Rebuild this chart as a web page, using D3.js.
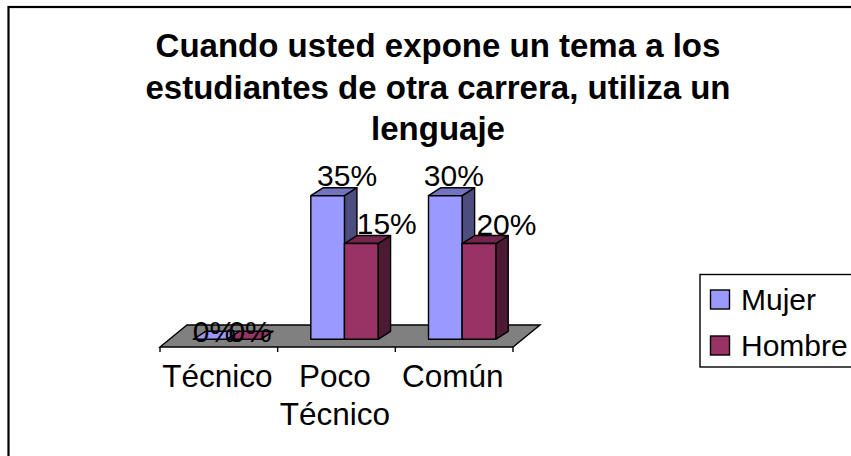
<!DOCTYPE html>
<html>
<head>
<meta charset="utf-8">
<script src="https://cdn.jsdelivr.net/npm/d3@7"></script>
<style>
  html, body { margin: 0; padding: 0; background: #fff; }
  svg { display: block; }
  text { font-family: "Liberation Sans", Arial, sans-serif; fill: #000; }
</style>
</head>
<body>
<div id="chart"></div>
<script>
// Data
var titleLines = ["Cuando usted expone un tema a los", "estudiantes de otra carrera, utiliza un", "lenguaje"];
var categories = ["Técnico", "Poco Técnico", "Común"];
var seriesNames = ["Mujer", "Hombre"];
// bar heights as drawn (the chart's printed labels do not follow them)
var mujerValues = [0, 30, 30];
var hombreValues = [0, 20, 20];
var mujerLabels = ["0%", "35%", "30%"];
var hombreLabels = ["0%", "15%", "20%"];
var yDomain = [0, 30];

var seriesValues = [mujerValues, hombreValues];
var seriesLabels = [mujerLabels, hombreLabels];

const width = 851;
const height = 456;

var colors = d3.scaleOrdinal().domain(seriesNames).range(["#9999ff", "#993366"]);
var topColors = d3.scaleOrdinal().domain(seriesNames).range(["#7373bf", "#73264d"]);
var sideColors = d3.scaleOrdinal().domain(seriesNames).range(["#4d4d80", "#4d1a33"]);

var svg = d3.select("#chart").append("svg")
    .attr("width", width)
    .attr("height", height);

// chart frame, its right and bottom side fall outside the page
svg.append("rect")
    .attr("x", 8.5).attr("y", 7)
    .attr("width", 860).attr("height", 470)
    .attr("fill", "#fff")
    .attr("stroke", "#000")
    .attr("stroke-width", 2.2);

svg.append("g").selectAll("text")
    .data(titleLines)
    .enter().append("text")
    .attr("x", 438)
    .attr("y", (d, i) => 57 + i * 41.7)
    .attr("text-anchor", "middle")
    .attr("font-size", 33)
    .attr("font-weight", "bold")
    .text(d => d);

//------------------------scales------------------------//
var floorFront = 347, floorBack = 325;
var floorSlant = 27;         // floor shift going back
var barBase = 339.3;
var depthX = 12.5, depthY = 8; // 3d depth of a bar
var baseShift = floorSlant * (floorFront - barBase) / (floorFront - floorBack);

var x = d3.scaleBand().domain(categories).range([160, 513]);
var xInner = d3.scaleBand().domain(seriesNames)
    .range([0, x.bandwidth()])
    .paddingInner(0)
    .paddingOuter(0.75);
var y = d3.scaleLinear().domain(yDomain).range([barBase, 195.7]);

//------------------------floor------------------------//
svg.append("path")
    .attr("d", d3.line()([
        [x.range()[0], floorFront],
        [x.range()[0] + floorSlant, floorBack],
        [x.range()[1] + floorSlant, floorBack],
        [x.range()[1], floorFront]
    ]) + "Z")
    .attr("fill", "#808080")
    .attr("stroke", "#000")
    .attr("stroke-width", 1.4);

// ticks sit between the categories
var tickX = categories.map(c => x(c)).concat([x.range()[1]]);
svg.append("g").selectAll("line")
    .data(tickX)
    .enter().append("line")
    .attr("x1", d => d).attr("x2", d => d)
    .attr("y1", floorFront).attr("y2", floorFront + 5)
    .attr("stroke", "#000")
    .attr("stroke-width", 1.4);

//------------------------bars------------------------//
var barData = [];
categories.forEach(function(c, i) {
    seriesNames.forEach(function(s, j) {
        barData.push({ cat: c, name: s, value: seriesValues[j][i], label: seriesLabels[j][i], i: i, j: j });
    });
});

var bars = svg.append("g").selectAll("g")
    .data(barData)
    .enter().append("g")
    .attr("stroke", "#000")
    .attr("stroke-width", 1.4)
    .attr("stroke-linejoin", "round");

function barLeft(d) { return x(d.cat) + xInner(d.name) + baseShift - 1.5; }
function barRight(d) { return barLeft(d) + xInner.bandwidth(); }

// side
bars.append("path")
    .attr("d", d => d3.line()([
        [barRight(d), y(d.value)],
        [barRight(d) + depthX, y(d.value) - depthY],
        [barRight(d) + depthX, y(0) - depthY],
        [barRight(d), y(0)]
    ]) + "Z")
    .attr("fill", d => sideColors(d.name));
// top
bars.append("path")
    .attr("d", d => d3.line()([
        [barLeft(d), y(d.value)],
        [barLeft(d) + depthX, y(d.value) - depthY],
        [barRight(d) + depthX, y(d.value) - depthY],
        [barRight(d), y(d.value)]
    ]) + "Z")
    .attr("fill", d => d.value == 0 ? colors(d.name) : topColors(d.name));
// front
bars.append("rect")
    .attr("x", barLeft)
    .attr("y", d => y(d.value))
    .attr("width", xInner.bandwidth())
    .attr("height", d => y(0) - y(d.value))
    .attr("fill", d => colors(d.name));

//------------------------labels------------------------//
// hand nudges, the original places its labels a bit unevenly
var nudgeX = [[-8, 7, -4], [-6, 13, 15]];
var nudgeY = [[14, 1, 1], [14, 1, 2]];

svg.append("g").selectAll("text")
    .data(barData)
    .enter().append("text")
    .attr("x", d => (barLeft(d) + barRight(d)) / 2 + depthX + nudgeX[d.j][d.i])
    .attr("y", d => y(d.value) - depthY - 3 + nudgeY[d.j][d.i])
    .attr("text-anchor", "middle")
    .attr("font-size", 30)
    .text(d => d.label);

var axisText = svg.append("g").selectAll("text")
    .data(categories)
    .enter().append("text")
    .attr("text-anchor", "middle")
    .attr("font-size", 31.5)
    .attr("y", 387);

axisText.selectAll("tspan")
    .data(d => {
        // only the long label breaks onto two lines
        return d.length > 8 ? d.split(" ").map(t => ({ t: t, cat: d })) : [{ t: d, cat: d }];
    })
    .enter().append("tspan")
    .attr("x", d => x(d.cat) + x.bandwidth() / 2 - 1.5)
    .attr("dy", (d, i) => i == 0 ? 0 : 37.7)
    .text(d => d.t);

//------------------------legend------------------------//
var legend = svg.append("g");
legend.append("rect")
    .attr("x", 700).attr("y", 274.5)
    .attr("width", 170).attr("height", 92.5)
    .attr("fill", "#fff")
    .attr("stroke", "#000")
    .attr("stroke-width", 1.4);

var legendY = d3.scalePoint().domain(seriesNames).range([300, 346]);

legend.selectAll(".swatch")
    .data(seriesNames)
    .enter().append("rect")
    .attr("class", "swatch")
    .attr("x", 710.5)
    .attr("y", d => legendY(d) - 10)
    .attr("width", 19)
    .attr("height", 19)
    .attr("fill", d => colors(d))
    .attr("stroke", "#000")
    .attr("stroke-width", 1.4);

legend.selectAll(".name")
    .data(seriesNames)
    .enter().append("text")
    .attr("class", "name")
    .attr("x", 741)
    .attr("y", d => legendY(d) + 10)
    .attr("font-size", 30)
    .text(d => d);
</script>
</body>
</html>
